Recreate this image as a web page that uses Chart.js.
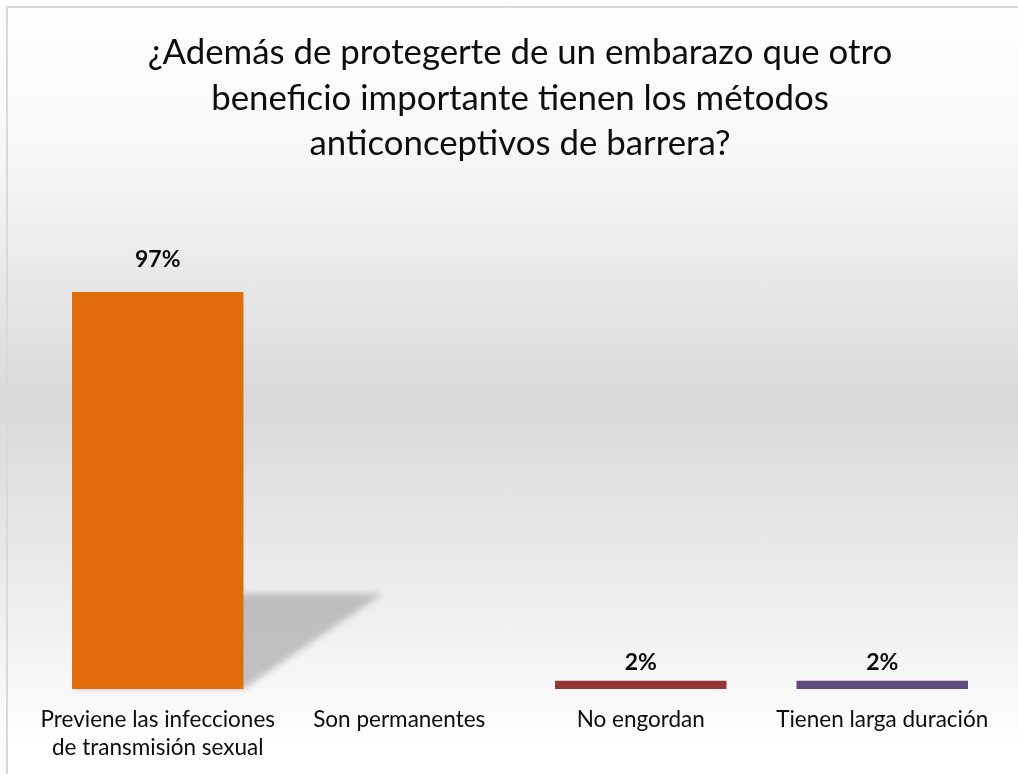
<!DOCTYPE html>
<html>
<head>
<meta charset="utf-8">
<script src="https://cdn.jsdelivr.net/npm/chart.js@4.4.0/dist/chart.umd.min.js"></script>
<style>
  html, body { margin: 0; padding: 0; width: 1018px; height: 774px; overflow: hidden; }
  #frame {
    position: absolute; left: 0; top: 0; width: 1018px; height: 774px;
    background: linear-gradient(to bottom, #ffffff 0%, #f7f7f7 20%, #d9d9d9 52%, #ebebeb 75%, #ffffff 97%);
  }
  #edge {
    position: absolute; left: 6px; top: 6px; width: 1100px; height: 900px;
    border-left: 2px solid #d9d9d9; border-top: 2px solid #d9d9d9;
  }
  #wrap { position: absolute; left: 0; top: 0; width: 1018px; height: 774px; }
</style>
</head>
<body>
<div id="frame"></div>
<div id="edge"></div>
<div id="wrap"><canvas id="chart"></canvas></div>
<script>
// DATA
const categories = [
  ["Previene las infecciones", "de transmisión sexual"],
  "Son permanentes",
  "No engordan",
  "Tienen larga duración",
];
const percentages = [97, 0, 2, 2];
const barColors = ["#E36C0A", "#C0504D", "#953735", "#604A7B"];
const titleLines = [
  "¿Además de protegerte de un embarazo que otro",
  "beneficio importante tienen los métodos",
  "anticonceptivos de barrera?",
];

const fontFamily = "Lato, 'Open Sans', sans-serif";

// shadow behind the bars, skewed to the right
const barShadow = {
  id: "barShadow",
  beforeDatasetsDraw(chart) {
    const ctx = chart.ctx;
    const meta = chart.getDatasetMeta(0);
    ctx.save();
    ctx.filter = "blur(3px)";
    ctx.fillStyle = "rgba(150, 150, 150, 0.55)";
    meta.data.forEach(function (bar) {
      const h = bar.base - bar.y;
      if (h < 20) return;
      const left = bar.x - bar.width / 2;
      const right = bar.x + bar.width / 2;
      ctx.beginPath();
      ctx.moveTo(left, bar.base);
      ctx.lineTo(right, bar.base);
      ctx.lineTo(right + h * 0.35, bar.base - h * 0.24);
      ctx.lineTo(left + h * 0.35, bar.base - h * 0.24);
      ctx.closePath();
      ctx.fill();
    });
    ctx.restore();
  },
};

// value labels above the bars
const valueLabels = {
  id: "valueLabels",
  afterDatasetsDraw(chart) {
    const ctx = chart.ctx;
    const meta = chart.getDatasetMeta(0);
    ctx.save();
    ctx.font = "bold 23px " + fontFamily;
    ctx.fillStyle = "#0d0d0d";
    ctx.textAlign = "center";
    ctx.textBaseline = "alphabetic";
    meta.data.forEach(function (bar, i) {
      if (!percentages[i]) return;
      const h = bar.base - bar.y;
      ctx.fillText(percentages[i] + "%", bar.x, bar.y - 11 - h * 0.035);
    });
    ctx.restore();
  },
};

const ctx = document.getElementById("chart").getContext("2d");

new Chart(ctx, {
  type: "bar",
  data: {
    labels: categories,
    datasets: [
      {
        label: "Porcentaje",
        data: percentages,
        backgroundColor: barColors,
        barPercentage: 0.71,
        categoryPercentage: 1,
      },
    ],
  },
  options: {
    responsive: true,
    maintainAspectRatio: false,
    animation: false,
    layout: { padding: { left: 37, right: 15, top: 0, bottom: 0 } },
    scales: {
      x: {
        grid: { display: false, drawTicks: false },
        border: { display: false },
        ticks: {
          color: "#0d0d0d",
          font: { family: fontFamily, size: 22.5, lineHeight: 1.27 },
          padding: 16,
          maxRotation: 0,
          autoSkip: false,
        },
        afterFit(scale) {
          scale.height = 85; // keep the axis strip the same height as the original
        },
      },
      y: {
        display: false,
        min: 0,
        max: 100,
      },
    },
    plugins: {
      legend: { display: false },
      tooltip: { enabled: false },
      title: {
        display: true,
        text: titleLines,
        color: "#0d0d0d",
        font: { family: fontFamily, size: 34.8, weight: "normal", lineHeight: 1.31 },
        padding: { top: 30, bottom: 113 },
      },
    },
  },
  plugins: [barShadow, valueLabels],
});
</script>
</body>
</html>
